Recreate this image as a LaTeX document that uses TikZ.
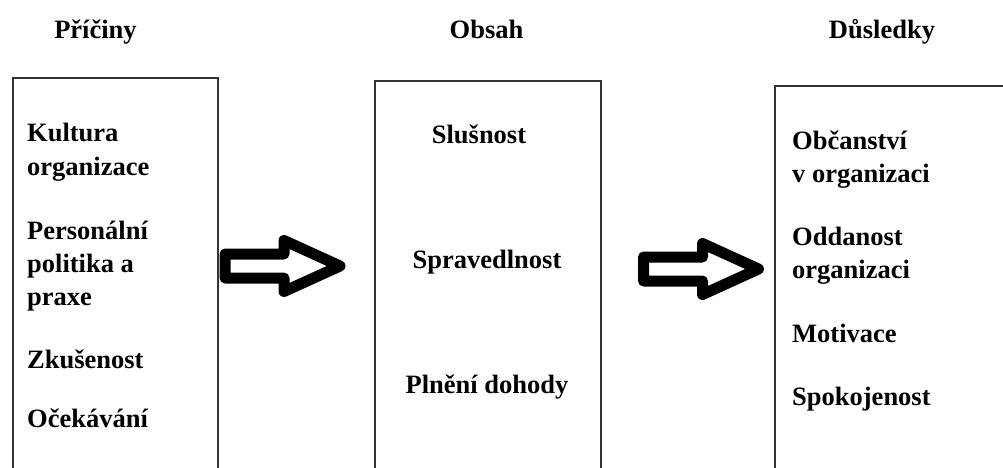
\documentclass[tikz,border=0pt]{standalone}
\usepackage{fontspec}
\setmainfont{Liberation Serif}
\usetikzlibrary{positioning}
\tikzset{box/.style = {draw = black!80, line width = 1.6pt, anchor = north west, inner sep = 0}}
\tikzset{head/.style = {font = \bfseries\fontsize{26.5}{33}\selectfont, anchor = base, inner sep = 0}}
% multi-line items: the base anchor sits on the last line
\tikzset{item/.style = {font = \bfseries\fontsize{26.5}{33}\selectfont, align = left, anchor = base west, inner sep = 0}}
\tikzset{fat/.style = {draw, line width = 11pt, line join = round, fill = white}}
% hollow block arrow, #1 = middle of its tail
\newcommand\blockarrow[1]{%
  \draw [fat] (#1) ++(0, -12) -- ++(59, 0) -- ++(0, -13.5) -- ++(56, 25.5)
    -- ++(-56, 25.5) -- ++(0, -13.5) -- ++(-59, 0) -- cycle;}

\begin{document}
\begin{tikzpicture}[x = 1pt, y = -1pt]
    \clip (0, 0) rectangle (1003, 468);
    \fill [white] (0, 0) rectangle (1003, 468);

    \node [head] (pricinyhead) at (95.5, 39) {Příčiny};
    \node [head] (obsahhead) at (486.5, 39) {Obsah};
    \node [head] (dusledkyhead) at (882, 39) {Důsledky};

    \node [box, minimum width = 205, minimum height = 420] (priciny) at (12, 77) {};
    \node [box, minimum width = 226, minimum height = 420] (obsah) at (374, 80) {};
    \node [box, minimum width = 260, minimum height = 420] (dusledky) at (774, 85) {};

    \node [item] (kultura) at (27, 175) {Kultura\\organizace};
    \node [item] (politika) at (27, 305) {Personální\\politika a\\praxe};
    \node [item] (zkusenost) at (27, 368) {Zkušenost};
    \node [item] (ocekavani) at (27, 427) {Očekávání};

    \node [head] (slusnost) at (479, 143) {Slušnost};
    \node [head] (spravedlnost) at (487, 268) {Spravedlnost};
    \node [head] (plneni) at (487, 393) {Plnění dohody};

    \node [item] (obcanstvi) at (792, 182) {Občanství\\v organizaci};
    \node [item] (oddanost) at (792, 278) {Oddanost\\organizaci};
    \node [item] (motivace) at (792, 342) {Motivace};
    \node [item] (spokojenost) at (792, 405) {Spokojenost};

    \coordinate (tailA) at (225, 266);
    \coordinate (tailB) at (643.5, 269);
    \blockarrow{tailA}
    \blockarrow{tailB}
  \end{tikzpicture}
\end{document}
